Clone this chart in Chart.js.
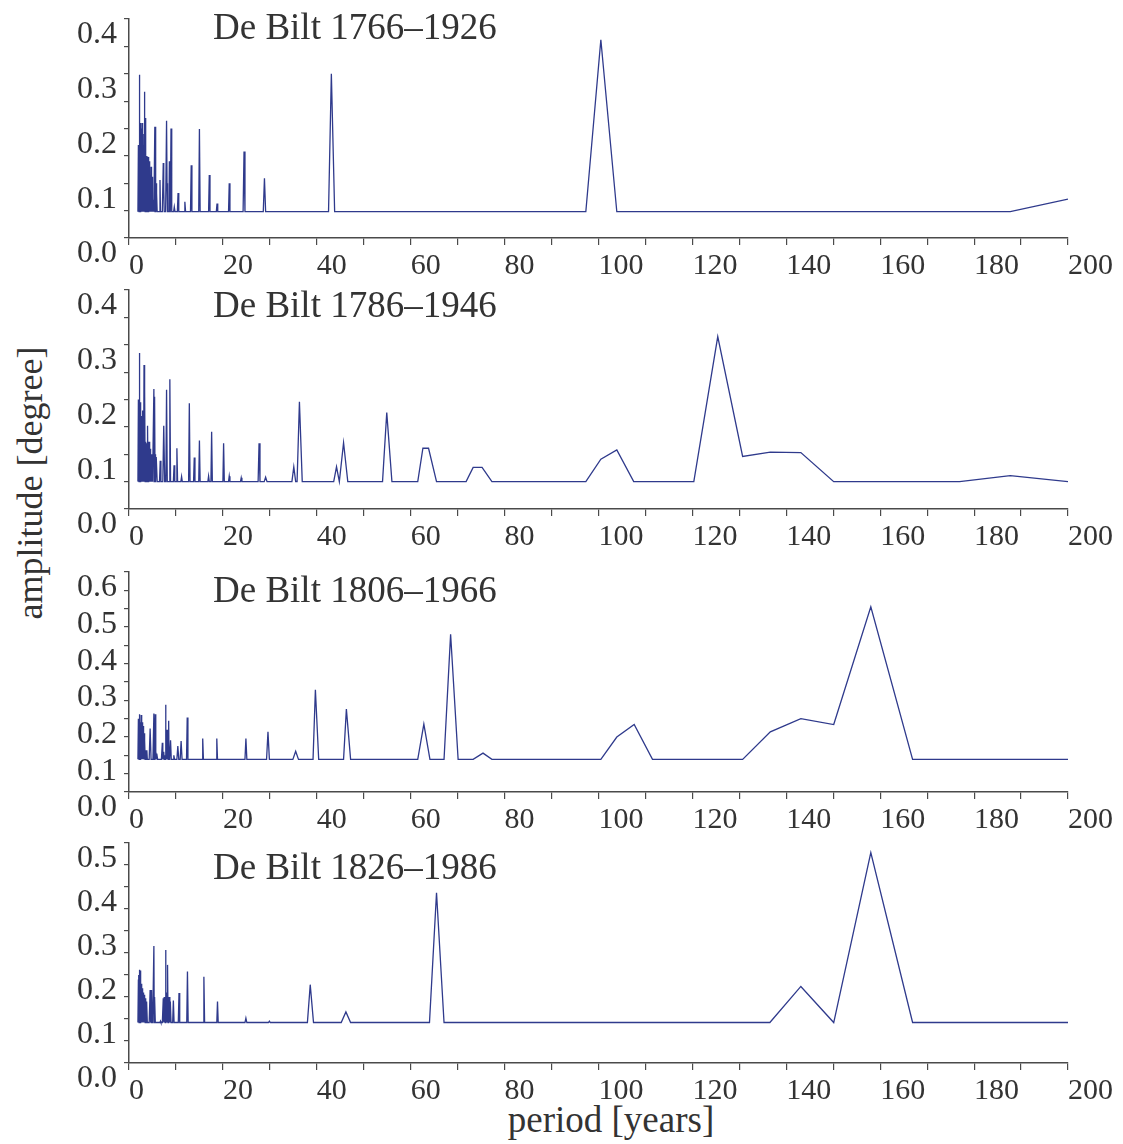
<!DOCTYPE html>
<html>
<head>
<meta charset="utf-8">
<script src="https://cdn.jsdelivr.net/npm/chart.js@4.4.1/dist/chart.umd.min.js"></script>
<style>
  body { margin: 0; background: #fff; }
  #fig { position: relative; width: 1123px; height: 1144px; font-family: 'Liberation Serif', 'Times New Roman', serif; color: #333; }
  #fig canvas { position: absolute; left: 0; }
  .panel-title { position: absolute; left: 213px; font-size: 37px; line-height: 36px; white-space: nowrap; }
  #ytitle { position: absolute; left: 30px; top: 483px; font-size: 36px; line-height: 36px; white-space: nowrap;
            transform: translate(-50%, -50%) rotate(-90deg); }
  #xtitle { position: absolute; left: 611px; top: 1102px; font-size: 37px; line-height: 36px; white-space: nowrap;
            transform: translateX(-50%); }
</style>
</head>
<body>
<div id="fig">
  <div id="ytitle">amplitude [degree]</div>
  <div id="xtitle">period [years]</div>
</div>
<script>
// panel titles and y ranges
const panelTitles = ['De Bilt 1766–1926', 'De Bilt 1786–1946', 'De Bilt 1806–1966', 'De Bilt 1826–1986'];
const yMax = [0.4, 0.4, 0.6, 0.5];

// [period in years, amplitude in degrees]
const spectrum1766 = [
  [1.9,0.048],[2.0,0.17],[2.05,0.048],[2.1,0.12],[2.15,0.048],[2.2,0.298],[2.25,0.048],[2.3,0.21],[2.35,0.048],
  [2.4,0.21],[2.45,0.048],[2.5,0.19],[2.55,0.048],[2.6,0.2],[2.65,0.048],[2.7,0.15],[2.75,0.048],[2.8,0.21],
  [2.85,0.048],[2.9,0.13],[2.95,0.048],[3.0,0.17],[3.05,0.048],[3.1,0.14],[3.15,0.048],[3.2,0.19],[3.25,0.048],
  [3.3,0.267],[3.35,0.048],[3.4,0.15],[3.45,0.048],[3.5,0.219],[3.55,0.048],[3.6,0.12],[3.65,0.048],[3.7,0.15],
  [3.75,0.048],[3.8,0.149],[3.85,0.048],[3.9,0.149],[3.95,0.048],[4.0,0.13],[4.05,0.048],[4.1,0.148],[4.15,0.048],
  [4.2,0.12],[4.25,0.048],[4.3,0.14],[4.35,0.048],[4.4,0.1],[4.45,0.048],[4.5,0.112],[4.55,0.048],[4.6,0.09],
  [4.65,0.048],[4.7,0.13],[4.75,0.048],[4.8,0.08],[4.85,0.048],[4.9,0.112],[4.95,0.048],[5.0,0.07],[5.1,0.048],
  [5.2,0.07],[5.3,0.048],[5.5,0.203],[5.55,0.048],[5.6,0.14],[5.65,0.048],[5.7,0.203],[5.75,0.048],[5.8,0.1],
  [5.85,0.048],[5.9,0.082],[6.0,0.048],
  [6.5,0.048],[6.6,0.106],[6.7,0.048],
  [7.1,0.048],[7.3,0.137],[7.4,0.09],[7.5,0.048],
  [7.8,0.048],[8.0,0.214],[8.1,0.1],[8.2,0.048],
  [8.5,0.048],[8.6,0.14],[8.7,0.048],
  [8.8,0.048],[8.95,0.2],[9.1,0.048],
  [9.5,0.048],[9.65,0.057],[9.8,0.048],
  [10.3,0.048],[10.45,0.082],[10.6,0.048],
  [11.75,0.048],[11.9,0.066],[12.05,0.048],
  [13.1,0.048],[13.25,0.133],[13.4,0.048],
  [14.85,0.048],[15.0,0.199],[15.15,0.048],
  [16.95,0.048],[17.1,0.115],[17.25,0.048],
  [18.6,0.048],[18.75,0.063],[18.9,0.048],
  [21.2,0.048],[21.35,0.1],[21.5,0.048],
  [24.3,0.048],[24.5,0.158],[24.7,0.048],
  [28.6,0.048],[28.85,0.109],[29.1,0.048],
  [42.5,0.048],[43.1,0.3],[43.8,0.048],
  [97.3,0.048],[100.5,0.362],[103.9,0.048],
  [187.7,0.048],[200,0.071]
];

const spectrum1786 = [
  [1.9,0.05],[2.0,0.2],[2.05,0.05],[2.1,0.19],[2.15,0.05],[2.2,0.285],[2.25,0.05],[2.3,0.19],[2.35,0.05],
  [2.4,0.17],[2.45,0.05],[2.5,0.195],[2.55,0.05],[2.6,0.15],[2.65,0.05],[2.7,0.17],[2.75,0.05],[2.8,0.12],
  [2.85,0.05],[2.9,0.18],[2.95,0.05],[3.0,0.12],[3.05,0.05],[3.1,0.16],[3.15,0.05],[3.2,0.263],[3.25,0.05],
  [3.3,0.12],[3.35,0.05],[3.4,0.219],[3.45,0.05],[3.5,0.12],[3.55,0.05],[3.6,0.123],[3.65,0.05],[3.7,0.12],
  [3.75,0.05],[3.8,0.12],[3.85,0.05],[3.9,0.1],[3.95,0.05],[4.0,0.152],[4.05,0.05],[4.1,0.12],[4.15,0.05],
  [4.2,0.123],[4.25,0.05],[4.3,0.1],[4.35,0.05],[4.4,0.123],[4.45,0.05],[4.5,0.09],[4.55,0.05],[4.6,0.11],
  [4.65,0.05],[4.7,0.08],[4.75,0.05],[4.8,0.1],[4.85,0.05],[4.9,0.09],[4.95,0.05],[5.0,0.1],[5.1,0.05],
  [5.3,0.219],[5.35,0.05],[5.4,0.12],[5.45,0.05],[5.5,0.205],[5.55,0.05],[5.6,0.1],[5.7,0.05],[5.8,0.095],[6.0,0.05],
  [6.5,0.05],[6.65,0.088],[6.8,0.05],
  [7.2,0.05],[7.4,0.152],[7.6,0.05],
  [7.85,0.05],[8.0,0.218],[8.15,0.05],
  [8.55,0.05],[8.7,0.237],[8.85,0.05],
  [9.45,0.05],[9.6,0.08],[9.75,0.05],
  [10.05,0.05],[10.2,0.111],[10.35,0.05],
  [11.05,0.05],[11.2,0.059],[11.35,0.05],
  [12.7,0.05],[12.85,0.193],[13.0,0.05],
  [13.75,0.05],[13.9,0.094],[14.05,0.05],
  [14.85,0.05],[15.0,0.125],[15.15,0.05],
  [16.8,0.05],[16.95,0.06],[17.1,0.05],
  [17.45,0.05],[17.6,0.141],[17.75,0.05],
  [20.0,0.05],[20.15,0.12],[20.3,0.05],
  [21.2,0.05],[21.35,0.06],[21.5,0.05],
  [23.75,0.05],[23.9,0.057],[24.05,0.05],
  [27.5,0.05],[27.7,0.12],[27.9,0.05],
  [28.8,0.05],[29.1,0.058],[29.4,0.05],
  [34.7,0.05],[35.1,0.077],[35.5,0.05],[35.8,0.05],[36.3,0.196],[36.9,0.05],
  [43.6,0.05],[44.2,0.077],[44.8,0.05],[45.7,0.121],[46.6,0.05],
  [54.0,0.05],[54.9,0.176],[56.0,0.05],
  [61.5,0.05],[62.6,0.111],[63.8,0.111],[65.5,0.05],
  [71.8,0.05],[73.3,0.076],[75.2,0.076],[77.3,0.05],
  [97.3,0.05],[100.5,0.091],[103.9,0.108],[107.5,0.05],
  [120.3,0.05],[125.4,0.315],[130.7,0.096],[136.6,0.104],[143.1,0.103],[150.1,0.05],
  [176.9,0.05],[187.7,0.061],[200,0.05]
];

const spectrum1806 = [
  [1.9,0.089],[2.0,0.2],[2.05,0.089],[2.1,0.18],[2.15,0.089],[2.2,0.212],[2.25,0.089],[2.3,0.19],[2.35,0.089],
  [2.4,0.19],[2.45,0.089],[2.5,0.17],[2.55,0.089],[2.6,0.21],[2.65,0.089],[2.7,0.16],[2.75,0.089],[2.8,0.19],
  [2.85,0.089],[2.9,0.15],[2.95,0.089],[3.0,0.18],[3.05,0.089],[3.1,0.13],[3.15,0.089],[3.2,0.16],[3.25,0.089],
  [3.3,0.12],[3.35,0.089],[3.4,0.14],[3.45,0.089],[3.5,0.11],[3.55,0.089],[3.6,0.114],[3.7,0.089],[3.8,0.114],[3.9,0.089],
  [4.3,0.089],[4.5,0.173],[4.7,0.089],
  [5.1,0.089],[5.3,0.214],[5.37,0.089],[5.45,0.15],[5.52,0.089],[5.6,0.212],[5.7,0.089],[5.8,0.1],[5.87,0.089],
  [5.95,0.105],[6.1,0.089],
  [6.9,0.089],[7.1,0.134],[7.2,0.089],[7.4,0.11],[7.5,0.089],[7.6,0.1],[7.7,0.089],[7.8,0.238],[7.87,0.089],
  [7.95,0.14],[8.02,0.089],[8.1,0.17],[8.2,0.089],[8.3,0.12],[8.37,0.089],[8.45,0.194],[8.52,0.089],[8.6,0.11],
  [8.7,0.089],[8.85,0.141],[9.0,0.089],
  [9.4,0.089],[9.55,0.1],[9.7,0.089],
  [10.2,0.089],[10.4,0.125],[10.6,0.089],
  [10.9,0.089],[11.1,0.139],[11.3,0.089],
  [12.25,0.089],[12.4,0.203],[12.55,0.089],
  [15.55,0.089],[15.7,0.146],[15.85,0.089],
  [18.55,0.089],[18.7,0.146],[18.85,0.089],
  [24.7,0.089],[24.9,0.146],[25.1,0.089],
  [29.3,0.089],[29.6,0.164],[29.9,0.089],
  [34.9,0.089],[35.5,0.111],[36.1,0.089],
  [39.2,0.089],[39.7,0.279],[40.4,0.089],
  [45.7,0.089],[46.3,0.226],[47.2,0.089],
  [61.5,0.089],[62.8,0.185],[64.1,0.089],
  [67.1,0.089],[68.5,0.43],[70.1,0.089],
  [73.3,0.089],[75.4,0.106],[77.3,0.089],
  [100.5,0.089],[103.9,0.15],[107.6,0.184],[111.5,0.089],
  [130.7,0.089],[136.6,0.164],[143.1,0.2],[150.1,0.184],[158,0.505],[166.9,0.089],
  [200,0.089]
];

const spectrum1826 = [
  [1.9,0.092],[2.0,0.19],[2.05,0.092],[2.1,0.2],[2.15,0.092],[2.2,0.212],[2.25,0.092],[2.3,0.2],[2.35,0.092],
  [2.4,0.21],[2.45,0.092],[2.5,0.17],[2.55,0.092],[2.6,0.18],[2.65,0.092],[2.7,0.16],[2.75,0.092],[2.8,0.17],
  [2.85,0.092],[2.9,0.15],[2.95,0.092],[3.0,0.16],[3.05,0.092],[3.1,0.14],[3.15,0.092],[3.2,0.155],[3.25,0.092],
  [3.3,0.14],[3.35,0.092],[3.4,0.15],[3.45,0.092],[3.5,0.13],[3.55,0.092],[3.6,0.147],[3.65,0.092],[3.7,0.13],
  [3.75,0.092],[3.8,0.14],[3.9,0.092],
  [4.3,0.092],[4.5,0.166],[4.57,0.092],[4.65,0.12],[4.72,0.092],[4.8,0.166],[4.9,0.092],[5.0,0.12],[5.1,0.092],
  [5.3,0.266],[5.37,0.092],[5.45,0.15],[5.6,0.092],
  [6.6,0.092],[6.7,0.095],[6.8,0.092],
  [7.1,0.092],[7.3,0.147],[7.35,0.092],[7.4,0.14],[7.45,0.092],[7.5,0.15],[7.57,0.092],[7.65,0.14],[7.72,0.092],
  [7.8,0.257],[7.87,0.092],[7.95,0.15],[8.02,0.092],[8.1,0.16],[8.17,0.092],[8.25,0.223],[8.32,0.092],[8.4,0.15],
  [8.5,0.092],[8.6,0.15],[8.7,0.092],[8.8,0.14],[8.95,0.092],
  [9.3,0.092],[9.45,0.142],[9.6,0.092],
  [10.5,0.092],[10.65,0.159],[10.8,0.092],
  [12.3,0.092],[12.45,0.208],[12.6,0.092],
  [15.8,0.092],[15.95,0.196],[16.1,0.092],
  [18.7,0.092],[18.85,0.14],[19.0,0.092],
  [24.7,0.092],[24.9,0.102],[25.1,0.092],
  [29.7,0.092],[29.9,0.095],[30.1,0.092],
  [38.0,0.092],[38.6,0.178],[39.3,0.092],
  [45.2,0.092],[46.2,0.116],[47.2,0.092],
  [64.0,0.092],[65.5,0.387],[67.1,0.092],
  [136.5,0.092],[143.1,0.174],[150.1,0.092],[158,0.478],[166.9,0.092],
  [200,0.092]
];

const spectra = [spectrum1766, spectrum1786, spectrum1806, spectrum1826];

// layout of the four stacked panels (plot-area top and height in px)
const areaTops = [19, 290, 572, 843];
const areaHeights = [219, 219, 220, 220];
const titleTops = [9, 287, 572, 849];

const FONT = "'Liberation Serif', 'Times New Roman', serif";
const LINE = '#2f3a8c';
const AXIS = '#4a4a4a';
const TEXT = '#333';

const fig = document.getElementById('fig');

function makePanel(i) {
  const canvas = document.createElement('canvas');
  canvas.width = 1123;
  canvas.height = areaHeights[i] + 60;
  canvas.style.top = (areaTops[i] - 10) + 'px';
  fig.appendChild(canvas);

  const title = document.createElement('div');
  title.className = 'panel-title';
  title.style.top = titleTops[i] + 'px';
  title.textContent = panelTitles[i];
  fig.appendChild(title);

  new Chart(canvas, {
    type: 'line',
    data: {
      datasets: [{
        data: spectra[i].map(([x, y]) => ({ x, y })),
        borderColor: LINE,
        borderWidth: 1.3,
        pointRadius: 0,
        tension: 0,
        fill: false
      }]
    },
    options: {
      responsive: false,
      animation: false,
      layout: { padding: { top: 10, right: 55, left: 0, bottom: 0 } },
      plugins: { legend: { display: false }, tooltip: { enabled: false } },
      scales: {
        x: {
          type: 'linear',
          min: 0,
          max: 200,
          afterFit: s => { s.height = 50; },
          border: { color: AXIS, width: 1.5 },
          grid: { drawOnChartArea: false, drawTicks: true, tickLength: 7, color: AXIS, lineWidth: 1.2 },
          ticks: {
            stepSize: 10,
            autoSkip: false,
            maxRotation: 0,
            align: 'start',
            padding: 3,
            color: TEXT,
            font: { family: FONT, size: 30 },
            callback: v => (v % 20 === 0 ? String(v) : '')
          }
        },
        y: {
          min: 0,
          max: yMax[i],
          afterFit: s => { s.width = 129; },
          border: { color: AXIS, width: 1.5 },
          grid: { drawOnChartArea: false, drawTicks: true, tickLength: 5, color: AXIS, lineWidth: 1.2 },
          ticks: {
            stepSize: 0.05,
            autoSkip: false,
            align: 'start',
            padding: 7,
            color: TEXT,
            font: { family: FONT, size: 32 },
            callback: v => (Math.round(v * 100) % 10 === 0 ? v.toFixed(1) : '')
          }
        }
      }
    }
  });
}

for (let i = 0; i < 4; i++) makePanel(i);
</script>
</body>
</html>
